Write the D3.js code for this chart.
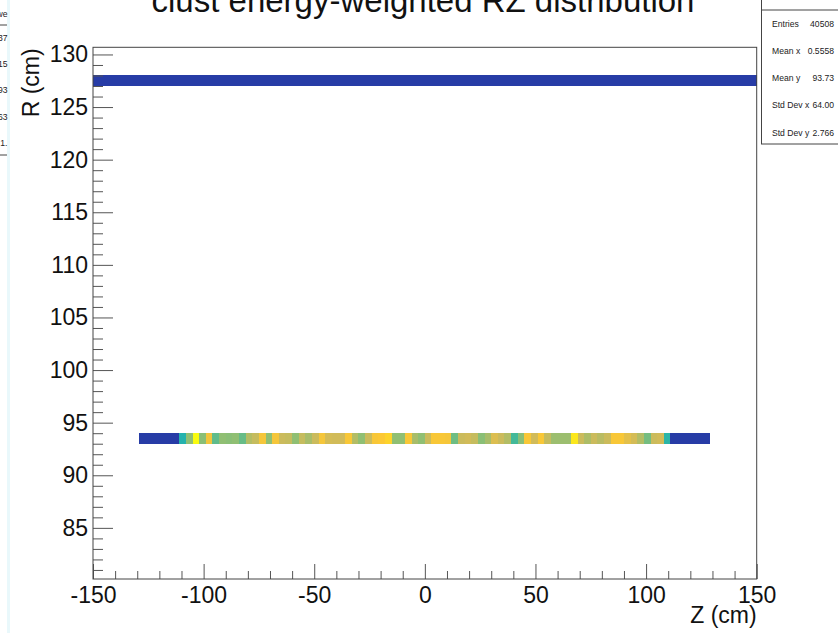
<!DOCTYPE html>
<html>
<head>
<meta charset="utf-8">
<script src="https://cdn.jsdelivr.net/npm/d3@7"></script>
<style>
  html, body { margin: 0; padding: 0; background: #fff; }
  svg { display: block; font-family: "Liberation Sans", Arial, Helvetica, sans-serif; }
</style>
</head>
<body>
<svg id="chart" width="838" height="633"></svg>
<script>
// Z bins are 3 cm wide; R bins 1 cm wide.
const zBinWidth = 3;
const rBinWidth = 1;

// Outer ring row (R 127-128 cm), bins starting at Z = -150
const outerRowR = 127;
const outerRowZStart = -150;
const outerRowWeights = [
  4.5, 4.5, 4.5, 4.5, 4.5, 4.5, 4.5, 4.5, 4.5, 4.5,
  4.5, 4.5, 4.5, 4.5, 4.5, 4.5, 4.5, 4.5, 4.5, 4.5,
  4.5, 4.5, 4.5, 4.5, 4.5, 4.5, 4.5, 4.5, 4.5, 4.5,
  4.5, 4.5, 4.5, 4.5, 4.5, 4.5, 4.5, 4.5, 4.5, 4.5,
  4.5, 4.5, 4.5, 4.5, 4.5, 4.5, 4.5, 4.5, 4.5, 4.5,
  4.5, 4.5, 4.5, 4.5, 4.5, 4.5, 4.5, 4.5, 4.5, 4.5,
  4.5, 4.5, 4.5, 4.5, 4.5, 4.5, 4.5, 4.5, 4.5, 4.5,
  4.5, 4.5, 4.5, 4.5, 4.5, 4.5, 4.5, 4.5, 4.5, 4.5,
  4.5, 4.5, 4.5, 4.5, 4.5, 4.5, 4.5, 4.5, 4.5, 4.5,
  4.5, 4.5, 4.5, 4.5, 4.5, 4.5, 4.5, 4.5, 4.5, 4.5
];

// Inner ring row (R 93-94 cm), bins starting at Z = -129
const innerRowR = 93;
const innerRowZStart = -129;
const innerRowWeights = [
  4.5, 4.5, 4.5, 4.5, 4.5, 4.5,
  47, 64, 100, 63, 84, 57, 64, 63, 64, 58,
  70, 73, 85, 64, 85, 74, 73, 64, 73, 68,
  74, 85, 76, 75, 75, 86, 70, 64, 74, 86,
  87, 90, 64, 64, 86, 68, 64, 74, 86, 86,
  85, 59, 74, 75, 73, 63, 68, 78, 74, 70,
  53, 63, 86, 75, 86, 73, 66, 66, 66, 95,
  74, 69, 74, 71, 74, 86, 86, 80, 76, 70,
  60, 74, 75, 49,
  4.5, 4.5, 4.5, 4.5, 4.5, 4.5
];

// Axis ticks
const zMajorTicks = [-150, -100, -50, 0, 50, 100, 150];
const zMinorTicks = [-140, -130, -120, -110, -90, -80, -70, -60, -40, -30, -20, -10,
                     10, 20, 30, 40, 60, 70, 80, 90, 110, 120, 130, 140];
const rMajorTicks = [85, 90, 95, 100, 105, 110, 115, 120, 125, 130];
const rMinorTicks = [81, 82, 83, 84, 86, 87, 88, 89, 91, 92, 93, 94, 96, 97, 98, 99,
                     101, 102, 103, 104, 106, 107, 108, 109, 111, 112, 113, 114,
                     116, 117, 118, 119, 121, 122, 123, 124, 126, 127, 128, 129];

// Statistics box entries
const statLabels = ["Entries", "Mean x", "Mean y", "Std Dev x", "Std Dev y"];
const statValues = ["40508", "0.5558", "93.73", "64.00", "2.766"];
// Neighbouring panel's statistics box (only its right edge is in view)
const sideBoxTexts = ["we", "37", "15", "93", "63", "1."];

const titleText = "clust energy-weighted RZ distribution";

const svg = d3.select("#chart");
const frame = { left: 93, right: 756.7, top: 47.3, bottom: 579 };

const x = d3.scaleLinear().domain([-150, 150]).range([frame.left, frame.right]);
const y = d3.scaleLinear().domain([80.14, 130.68]).range([frame.bottom, frame.top]);

// Bird colour palette (stops evenly spaced 0..1)
const birdStops = [
  [0.2082, 0.1664, 0.5293], [0.0592, 0.3599, 0.8684], [0.0780, 0.5041, 0.8385],
  [0.0232, 0.6419, 0.7914], [0.1802, 0.7178, 0.6425], [0.5301, 0.7492, 0.4662],
  [0.8186, 0.7328, 0.3499], [0.9956, 0.7862, 0.1968], [0.9764, 0.9832, 0.0539]
].map(c => d3.rgb(c[0] * 255, c[1] * 255, c[2] * 255));
const zMax = d3.max(innerRowWeights.concat(outerRowWeights));
const color = d3.scaleLinear()
  .domain(birdStops.map((_, i) => (i / (birdStops.length - 1)) * zMax))
  .range(birdStops)
  .interpolate(d3.interpolateRgb);

// Build cell list from the two rows
const cells = [];
outerRowWeights.forEach((w, i) => cells.push({ z: outerRowZStart + i * zBinWidth, r: outerRowR, w }));
innerRowWeights.forEach((w, i) => cells.push({ z: innerRowZStart + i * zBinWidth, r: innerRowR, w }));

svg.append("g").attr("shape-rendering", "crispEdges").selectAll("rect")
  .data(cells)
  .join("rect")
  .attr("x", d => Math.round(x(d.z)))
  .attr("y", d => Math.round(y(d.r + rBinWidth)))
  .attr("width", d => Math.round(x(d.z + zBinWidth)) - Math.round(x(d.z)))
  .attr("height", d => Math.round(y(d.r)) - Math.round(y(d.r + rBinWidth)))
  .attr("fill", d => color(d.w));

// X axis: ticks point into the plot
const tickColor = "#555";
const fmt = d => String(d);
const xAxisMajor = d3.axisBottom(x).tickValues(zMajorTicks).tickSize(-15).tickPadding(8).tickFormat(fmt);
const xAxisMinor = d3.axisBottom(x).tickValues(zMinorTicks).tickSize(-8).tickFormat("");
const gxMinor = svg.append("g").attr("transform", `translate(0,${frame.bottom})`).call(xAxisMinor);
const gx = svg.append("g").attr("transform", `translate(0,${frame.bottom})`).call(xAxisMajor);

// Y axis
const yAxisMajor = d3.axisLeft(y).tickValues(rMajorTicks).tickSize(-20).tickPadding(5).tickFormat(fmt);
const yAxisMinor = d3.axisLeft(y).tickValues(rMinorTicks).tickSize(-10).tickFormat("");
const gyMinor = svg.append("g").attr("transform", `translate(${frame.left},0)`).call(yAxisMinor);
const gy = svg.append("g").attr("transform", `translate(${frame.left},0)`).call(yAxisMajor);

[gx, gxMinor, gy, gyMinor].forEach(g => {
  g.select(".domain").remove();
  g.selectAll(".tick line").attr("stroke", tickColor).attr("stroke-width", 1);
  g.selectAll(".tick text").attr("fill", "#111").attr("font-size", 23)
    .attr("font-family", "'Liberation Sans', Arial, sans-serif");
});

// Frame
svg.append("rect")
  .attr("x", frame.left).attr("y", frame.top)
  .attr("width", frame.right - frame.left).attr("height", frame.bottom - frame.top)
  .attr("fill", "none").attr("stroke", "#444").attr("stroke-width", 1);

// Axis titles
svg.append("text")
  .attr("x", frame.right).attr("y", 623)
  .attr("text-anchor", "end").attr("font-size", 23).attr("fill", "#111")
  .text("Z (cm)");
svg.append("text")
  .attr("transform", `translate(39,${frame.top + 1}) rotate(-90)`)
  .attr("text-anchor", "end").attr("font-size", 23).attr("fill", "#111")
  .text("R (cm)");

// Title
svg.append("text")
  .attr("x", 423).attr("y", 12)
  .attr("text-anchor", "middle").attr("font-size", 33).attr("fill", "#111")
  .text(titleText);

// Statistics box
const stat = svg.append("g");
stat.append("rect")
  .attr("x", 761.5).attr("y", -2).attr("width", 90).attr("height", 146)
  .attr("fill", "#fff").attr("stroke", "#444").attr("stroke-width", 1);
stat.append("line")
  .attr("x1", 761.5).attr("x2", 838).attr("y1", 10).attr("y2", 10)
  .attr("stroke", "#444");
const statRowY = [26.5, 54, 81, 108, 135.5];
stat.selectAll("text.lab").data(statLabels).join("text")
  .attr("class", "lab").attr("x", 772).attr("y", (d, i) => statRowY[i])
  .attr("font-size", 8.6).attr("fill", "#222").text(d => d);
stat.selectAll("text.val").data(statValues).join("text")
  .attr("class", "val").attr("x", 834).attr("y", (d, i) => statRowY[i])
  .attr("text-anchor", "end").attr("font-size", 8.6).attr("fill", "#222").text(d => d);

// Edge of the neighbouring panel
const side = svg.append("g");
side.append("rect").attr("x", 7).attr("y", 0).attr("width", 3).attr("height", 633).attr("fill", "#e9f8fb");
side.append("line").attr("x1", 0).attr("x2", 7).attr("y1", 25).attr("y2", 25).attr("stroke", "#444");
side.append("line").attr("x1", 0).attr("x2", 7).attr("y1", 155).attr("y2", 155).attr("stroke", "#444");
const sideRowY = [16.5, 40.5, 67, 93, 119.5, 146];
side.selectAll("text").data(sideBoxTexts).join("text")
  .attr("x", 7.5).attr("y", (d, i) => sideRowY[i])
  .attr("text-anchor", "end").attr("font-size", 8.6).attr("fill", "#222").text(d => d);
</script>
</body>
</html>
